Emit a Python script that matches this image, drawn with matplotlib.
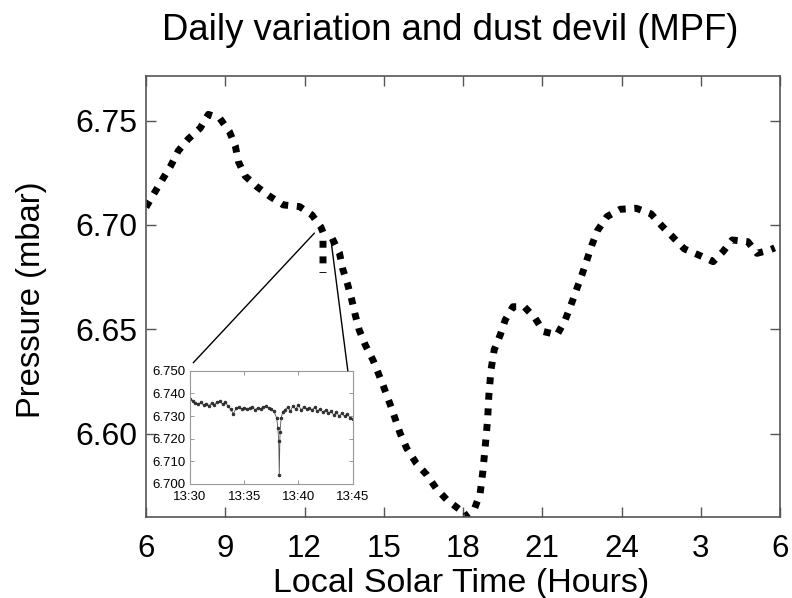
import numpy as np
import matplotlib
matplotlib.use("Agg")
import matplotlib.pyplot as plt
from matplotlib.patches import ConnectionPatch

plt.rcParams['font.family'] = ['Liberation Sans', 'DejaVu Sans']

# ---- main series: local solar time (hours, 6..30) vs pressure (mbar)
hours = [6.00, 6.30, 6.63, 6.94, 7.22, 7.60, 8.05, 8.36, 8.80, 9.16, 9.38, 9.50,
         9.75, 10.19, 10.70, 11.20, 11.81, 12.28, 12.62, 12.70, 12.70, np.nan,
         13.05, 13.32, 13.45, 13.63, 13.79, 13.92, 14.07, 14.30, 14.59, 14.95,
         15.30, 15.62, 15.87, 16.23, 16.63, 16.98, 17.39, 17.89, 18.05, 18.42,
         18.65, 18.75, 18.84, 18.93, 18.98, 19.06, 19.18, 19.41, 19.60, 19.89,
         20.32, 20.73, 21.05, 21.56, 21.87, 22.09, 22.29, 22.50, 22.69, 22.88,
         23.09, 23.45, 23.95, 24.56, 25.12, 25.53, 25.95, 26.38, 26.92, 27.47,
         27.84, 28.19, 28.78, 29.13, 29.61, 29.80]
pressure = [6.7085, 6.7150, 6.7220, 6.7284, 6.7355, 6.7412, 6.7464, 6.7530, 6.7510,
            6.7447, 6.7379, 6.7303, 6.7235, 6.7184, 6.7136, 6.7096, 6.7088, 6.7048,
            6.6990, 6.6965, 6.6770, np.nan,
            6.6935, 6.6867, 6.6788, 6.6716, 6.6641, 6.6569, 6.6497, 6.6425, 6.6353,
            6.6240, 6.6120, 6.6001, 6.5929, 6.5858, 6.5802, 6.5738, 6.5682, 6.5634,
            6.5600, 6.5634, 6.5714, 6.5817, 6.5937, 6.6065, 6.6185, 6.6305, 6.6401,
            6.6473, 6.6545, 6.6608, 6.6608, 6.6553, 6.6489, 6.6473, 6.6545, 6.6617,
            6.6688, 6.6760, 6.6832, 6.6904, 6.6973, 6.7040, 6.7075, 6.7080, 6.7053,
            6.6995, 6.6941, 6.6885, 6.6856, 6.6824, 6.6872, 6.6928, 6.6920, 6.6864,
            6.6880, 6.6890]

x_ticks = [6, 9, 12, 15, 18, 21, 24, 27, 30]
x_ticklabels = ['6', '9', '12', '15', '18', '21', '24', '3', '6']
y_ticks = [6.60, 6.65, 6.70, 6.75]
y_ticklabels = ['6.60', '6.65', '6.70', '6.75']

# ---- inset series: minutes after 13:00 vs pressure (mbar), dust devil at ~13:38
inset_minutes = [30.00, 30.25, 30.50, 30.75, 31.00, 31.25, 31.50, 31.75, 32.00, 32.25,
                 32.50, 32.75, 33.00, 33.25, 33.50, 33.75, 34.00, 34.25, 34.50, 34.75,
                 35.00, 35.25, 35.50, 35.75, 36.00, 36.25, 36.50, 36.75, 37.00, 37.25,
                 37.50, 37.75, 38.00, 38.10, 38.18, 38.23, 38.30, 38.40, 38.55, 38.75,
                 39.00, 39.25, 39.50, 39.75, 40.00, 40.25, 40.50, 40.75, 41.00, 41.25,
                 41.50, 41.75, 42.00, 42.25, 42.50, 42.75, 43.00, 43.25, 43.50, 43.75,
                 44.00, 44.25, 44.50, 44.75, 45.00]
inset_pressure = [6.7375, 6.7368, 6.7358, 6.7352, 6.7360, 6.7348, 6.7355, 6.7345, 6.7358,
                  6.7350, 6.7362, 6.7366, 6.7352, 6.7360, 6.7345, 6.7330, 6.7310, 6.7335,
                  6.7338, 6.7332, 6.7336, 6.7330, 6.7334, 6.7338, 6.7328, 6.7336, 6.7332,
                  6.7340, 6.7344, 6.7336, 6.7330, 6.7320, 6.7290, 6.7245, 6.7190, 6.7040,
                  6.7230, 6.7290, 6.7318, 6.7328, 6.7338, 6.7322, 6.7344, 6.7330, 6.7350,
                  6.7325, 6.7340, 6.7332, 6.7334, 6.7328, 6.7338, 6.7322, 6.7330, 6.7318,
                  6.7326, 6.7312, 6.7320, 6.7305, 6.7316, 6.7300, 6.7312, 6.7298, 6.7310,
                  6.7292, 6.7285]
inset_x_ticks = [30, 35, 40, 45]
inset_x_ticklabels = ['13:30', '13:35', '13:40', '13:45']
inset_y_ticks = [6.700, 6.710, 6.720, 6.730, 6.740, 6.750]
inset_y_ticklabels = ['6.700', '6.710', '6.720', '6.730', '6.740', '6.750']

W, H = 792, 598
fig = plt.figure(figsize=(W / 100, H / 100), dpi=100)

ax = fig.add_axes([146 / W, 1 - 517 / H, (780 - 146) / W, (517 - 76) / H])
ax.plot(hours, pressure, color='black', lw=5.0, linestyle=(0, (1, 1.25)),
        dash_capstyle='butt', solid_capstyle='butt')
ax.set_xlim(6, 30)
ax.set_ylim(6.560, 6.7714)
ax.set_xticks(x_ticks)
ax.set_xticklabels(x_ticklabels)
ax.set_yticks(y_ticks)
ax.set_yticklabels(y_ticklabels)
ax.tick_params(direction='in', length=7, width=1.0, color='#555555',
               top=True, right=True)
ax.tick_params(axis='y', labelsize=23, pad=6.5)
ax.tick_params(axis='x', labelsize=22.5, pad=12)
for s in ax.spines.values():
    s.set_color('#555555')
    s.set_linewidth(1.2)

fig.text(450 / W, 1 - 40 / H, 'Daily variation and dust devil (MPF)',
         fontsize=26.3, ha='center', va='baseline')
fig.text(461 / W, 1 - 592 / H, 'Local Solar Time (Hours)',
         fontsize=24.5, ha='center', va='baseline')
fig.text(32 / W, 1 - 300 / H, 'Pressure (mbar)',
         fontsize=23.6, ha='center', va='center', rotation=90)

# ---- inset
axi = fig.add_axes([190 / W, 1 - 484 / H, (352.7 - 190) / W, (484 - 370.7) / H])
axi.plot(inset_minutes, inset_pressure, color='#555555', lw=0.6,
         marker='o', ms=2.0, mfc='#333333', mec='#222222', mew=0.5)
axi.set_xlim(30, 45)
axi.set_ylim(6.700, 6.750)
axi.set_xticks(inset_x_ticks)
axi.set_xticklabels(inset_x_ticklabels)
axi.set_yticks(inset_y_ticks)
axi.set_yticklabels(inset_y_ticklabels)
axi.tick_params(direction='in', length=3, width=0.6, color='#888888',
                top=True, right=True, labelsize=9.5)
axi.tick_params(axis='y', pad=3)
axi.tick_params(axis='x', pad=5)
for s in axi.spines.values():
    s.set_color('#999999')
    s.set_linewidth(0.8)

# connector lines between the inset and the main curve
con1 = ConnectionPatch(xyA=(0.02, 1.07), coordsA=axi.transAxes,
                       xyB=(12.375, 6.6961), coordsB=ax.transData,
                       color='black', lw=1.0)
con2 = ConnectionPatch(xyA=(0.97, 1.0), coordsA=axi.transAxes,
                       xyB=(13.0, 6.6929), coordsB=ax.transData,
                       color='black', lw=1.0)
fig.add_artist(con1)
fig.add_artist(con2)

fig.savefig('out.png', dpi=100)
